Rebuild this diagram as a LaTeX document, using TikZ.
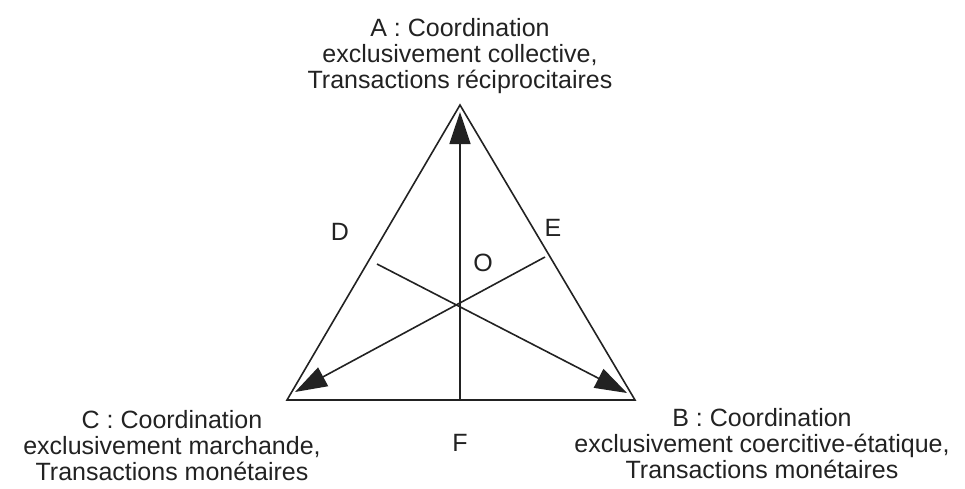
\documentclass[tikz,border=0pt]{standalone}
\usepackage{fontspec}
\setmainfont{Liberation Sans}
\usepackage{tikz}
\usetikzlibrary{calc,positioning,arrows.meta}
\definecolor{inkgray}{HTML}{222222}

\begin{document}
\begin{tikzpicture}[x=1pt, y=-1pt,
  every node/.style={font=\fontsize{25}{26}\selectfont, text=inkgray, inner sep=0pt},
  edgeline/.style={line width=1.6pt, inkgray},
  arrowline/.style={line width=1.6pt, inkgray, -{Triangle[length=32pt, width=21pt]}},
  pole/.style={align=center, anchor=base}]
  \useasboundingbox (0,0) rectangle (965,488);
  % triangle corners
  \coordinate (A) at (460, 105);
  \coordinate (B) at (635, 400);
  \coordinate (C) at (287, 400);
  \coordinate (Fm) at (460, 400);
  \coordinate (Dm) at (377, 264);
  \coordinate (Em) at (545, 257);
  \coordinate (Atip) at (460, 112);
  \coordinate (Btip) at (627, 393);
  \coordinate (Ctip) at (295, 392);
  \draw[edgeline] (A) -- (B) -- (C) -- cycle;
  \draw[arrowline] (Fm) -- (Atip);
  \draw[arrowline] (Dm) -- (Btip);
  \draw[arrowline] (Em) -- (Ctip);
  % labels (base = last line)
  \node[pole] (la) at (460, 88) {A : Coordination\\exclusivement collective,\\Transactions réciprocitaires};
  \node[pole] (lc) at (172, 480) {C : Coordination\\exclusivement marchande,\\Transactions monétaires};
  \node[pole] (lb) at (762, 478) {B : Coordination\\exclusivement coercitive-étatique,\\Transactions monétaires};
  \node (ld) at (340, 232) {D};
  \node (le) at (553, 228) {E};
  \node (lo) at (483, 263) {O};
  \node (lf) at (460, 443) {F};
\end{tikzpicture}
\end{document}
